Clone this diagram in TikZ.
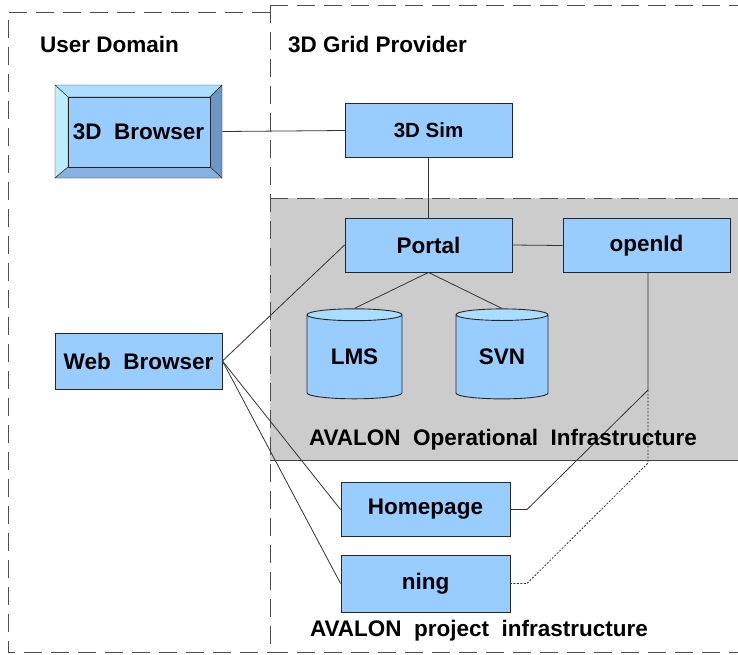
\documentclass[tikz,border=0pt]{standalone}
\usepackage{fontspec}
\setmainfont{Liberation Sans}
\usetikzlibrary{shapes.geometric}
\definecolor{boxblue}{HTML}{99CCFF}
\definecolor{topblue}{HTML}{AADDFF}
\definecolor{leftblue}{HTML}{BBEEFF}
\definecolor{rightblue}{HTML}{6C96C6}
\definecolor{lowblue}{HTML}{86B1E0}
\definecolor{areagray}{HTML}{CCCCCC}
\tikzset{
  unit/.style={draw=black!85, line width=0.9pt, fill=boxblue, minimum width=167pt,
    minimum height=54pt, inner sep=0pt, font=\fontsize{22.5}{26}\selectfont\bfseries},
  store/.style={cylinder, shape border rotate=90, draw=black!85, line width=0.9pt,
    cylinder uses custom fill, cylinder body fill=boxblue, cylinder end fill=topblue,
    minimum width=95pt, minimum height=90pt, aspect=0.25, inner sep=0pt,
    font=\fontsize{22.5}{26}\selectfont\bfseries},
  area/.style={draw=black!70, line width=0.9pt, dash pattern=on 18pt off 9pt},
  link/.style={draw=black!80, line width=0.8pt},
  caption/.style={font=\fontsize{22.5}{26}\selectfont\bfseries, inner sep=0pt},
}
\begin{document}
\begin{tikzpicture}[x=1pt, y=-1pt]
  \useasboundingbox (0,0) rectangle (738,654);
  \fill[areagray] (270,198) rectangle (738,460);
  \draw[area] (270,198) -- (738,198);
  \draw[black!75, line width=0.9pt] (270,460) -- (738,460);
  \draw[area] (270,12) -- (8,12) -- (8,652) -- (270,652);
  \draw[area] (270,5) -- (738,5);
  \draw[area] (270,652) -- (738,652);
  \draw[area] (270,5) -- (270,652);

  \node[caption, anchor=west] (userlbl) at (40,44) {User Domain};
  \node[caption, anchor=west] (gridlbl) at (288,44) {3D Grid Provider};

  \draw[fill=topblue, draw=black!85] (55,85) -- (222,85) -- (210,97) -- (68,97) -- cycle;
  \draw[fill=leftblue, draw=black!85] (55,85) -- (68,97) -- (68,167) -- (55,178) -- cycle;
  \draw[fill=rightblue, draw=black!85] (222,85) -- (222,178) -- (210,167) -- (210,97) -- cycle;
  \draw[fill=lowblue, draw=black!85] (55,178) -- (222,178) -- (210,167) -- (68,167) -- cycle;
  \draw[fill=boxblue, draw=black!85] (68,97) rectangle (210,167);
  \node[unit, draw=none, fill=none, minimum height=93pt] (browser) at (138.5,131.5) {3D\ \ Browser};

  \node[unit, font=\fontsize{20.5}{24}\selectfont\bfseries] (sim) at (428.5,130.5) {3D Sim};
  \node[unit] (portal) at (428.5,245) {Portal};
  \node[unit] (openid) at (646.5,245.5) {openId};
  \node[unit, minimum height=56pt] (web) at (138.5,361) {Web\ \ Browser};
  \node[unit, minimum width=169pt] (homepage) at (425.5,509.5) {Homepage};
  \node[unit, minimum width=169pt, minimum height=57pt] (ning) at (425.5,583.5) {ning};
  \node[store] (lms) at (354.5,357) {LMS};
  \node[store, minimum width=92pt] (svn) at (502,357) {SVN};

  \coordinate (split) at (648,390);
  \coordinate (drop) at (648,463);
  \coordinate (hbend) at (527,509.5);
  \coordinate (nbend) at (527,583.5);
  \begin{scope}[link]
    \draw (browser.east) -- (sim.west);
    \draw (sim.south) -- (portal.north);
    \draw (portal.east) -- (openid.west);
    \draw (portal.south) -- (lms.north);
    \draw (portal.south) -- (svn.north);
    \draw (web.east) -- (portal.west);
    \draw (web.east) -- (homepage.west);
    \draw (web.east) -- (ning.west);
    \draw (openid.south -| split) -- (split) -- (hbend) -- (homepage.east);
    \draw[dash pattern=on 2pt off 1.5pt] (split) -- (drop) -- (nbend) -- (ning.east);
  \end{scope}

  \node[caption] (opslbl) at (503,440) {AVALON\ \ Operational\ \ Infrastructure};
  \node[caption] (projlbl) at (479,631) {AVALON\ \ project\ \ infrastructure};
\end{tikzpicture}
\end{document}
